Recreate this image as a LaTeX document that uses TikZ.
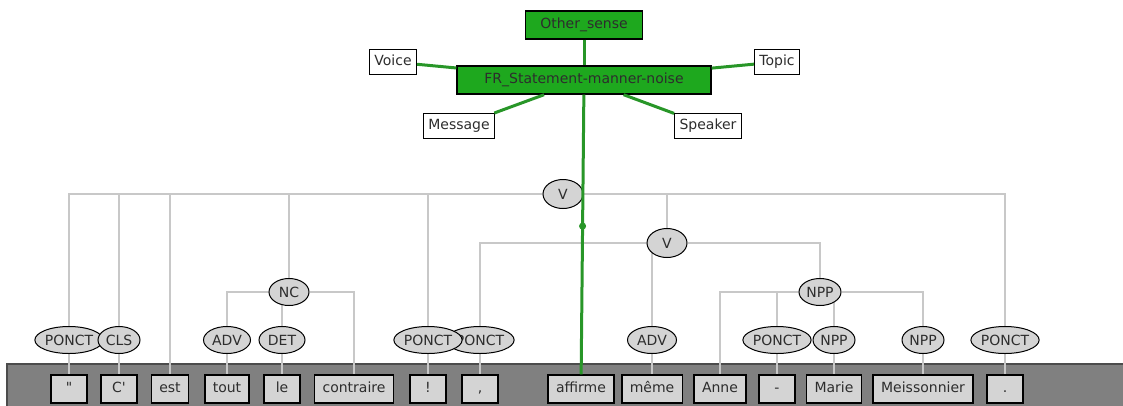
\documentclass[tikz,border=0pt]{standalone}
\usepackage{fontspec}
\setmainfont{DejaVu Sans}
\usetikzlibrary{shapes,positioning,backgrounds}

\definecolor{treegray}{RGB}{200,200,200}
\definecolor{bandgray}{RGB}{128,128,128}
\definecolor{boxgray}{RGB}{212,212,212}
\definecolor{framegreen}{RGB}{30,168,30}
\definecolor{linkgreen}{RGB}{40,150,40}
\definecolor{textgray}{RGB}{45,45,45}

\begin{document}
\begin{tikzpicture}[x=1pt, y=-1pt, node distance=49pt,
    font=\fontsize{14}{16}\selectfont, text=textgray,
    word/.style={draw, line width=1.5pt, fill=boxgray, minimum width=36pt, minimum height=28pt, inner xsep=8pt, text height=10pt, text depth=3pt},
    tag/.style={draw, ellipse, line width=1pt, fill=boxgray, inner sep=0pt, minimum height=27pt, minimum width=#1},
    tag/.default=44pt,
    role/.style={draw, line width=1pt, fill=white, minimum height=25pt, inner xsep=5pt, text height=10pt, text depth=3pt},
    framebox/.style={draw, line width=1.4pt, fill=framegreen, minimum height=28pt, text height=10pt, text depth=3pt},
    treeline/.style={treegray, line width=2.5pt},
    greenline/.style={linkgreen, line width=3pt}]
    \useasboundingbox (0,0) rectangle (1123,405);

    % sentence
    \node (w1) [word] at (69,389) {\textquotedbl};
    \node (w2) [word] at (119,389) {C\textquotesingle};
    \node (w3) [word] at (170,389) {est};
    \node (w4) [word] at (227,389) {tout};
    \node (w5) [word] at (282,389) {le};
    \node (w6) [word] at (354,389) {contraire};
    \node (w7) [word] at (428,389) {!};
    \node (w8) [word] at (480,389) {,};
    \node (w9) [word] at (581,389) {affirme};
    \node (w10) [word] at (652,389) {même};
    \node (w11) [word] at (720,389) {Anne};
    \node (w12) [word] at (777,389) {-};
    \node (w13) [word] at (834,389) {Marie};
    \node (w14) [word] at (923,389) {Meissonnier};
    \node (w15) [word] at (1005,389) {.};

    % part of speech
    \node (p1) [tag=68pt, above of=w1] {PONCT};
    \node (p2) [tag=42pt, above of=w2] {CLS};
    \node (p4) [tag=47pt, above of=w4] {ADV};
    \node (p5) [tag=46pt, above of=w5] {DET};
    \node (p8) [tag=68pt, above of=w8] {PONCT};
    \node (p7) [tag=68pt, above of=w7] {PONCT};
    \node (p10) [tag=49pt, above of=w10] {ADV};
    \node (p12) [tag=68pt, above of=w12] {PONCT};
    \node (p13) [tag=42pt, above of=w13] {NPP};
    \node (p14) [tag=42pt, above of=w14] {NPP};
    \node (p15) [tag=68pt, above of=w15] {PONCT};

    % phrases
    \node (v) [tag=40pt, minimum height=29pt] at (563,194) {V};
    \node (v2) [tag=40pt, minimum height=29pt] at (667,243) {V};
    \node (nc) [tag=40pt] at (289,292) {NC};
    \node (npp) [tag=42pt] at (820,292) {NPP};

    % frame
    \node (other) [framebox, minimum width=117pt] at (584,25) {Other\_sense};
    \node (fr) [framebox, minimum width=254pt] at (584,80) {FR\_Statement-manner-noise};
    \node (voice) [role] at (393,62) {Voice};
    \node (topic) [role] at (777,62) {Topic};
    \node (message) [role] at (459,126) {Message};
    \node (speaker) [role] at (708,126) {Speaker};

    \begin{scope}[on background layer]
        \draw[fill=bandgray, draw=black!70, line width=1.5pt] (7,364) rectangle (1135,415);
        \draw[treeline] (v) -| (p1);
        \draw[treeline] (v) -| (p2);
        \draw[treeline] (v) -| (w3);
        \draw[treeline] (v) -| (nc);
        \draw[treeline] (v) -| (p7);
        \draw[treeline] (v) -| (v2);
        \draw[treeline] (v) -| (p15);
        \draw[treeline] (v2) -| (p8);
        \draw[treeline] (v2.center -| p10) -- (p10);
        \draw[treeline] (v2) -| (npp);
        \draw[treeline] (nc) -| (p4);
        \draw[treeline] (nc.center -| p5) -- (p5);
        \draw[treeline] (nc) -| (w6);
        \draw[treeline] (npp) -| (w11);
        \draw[treeline] (npp) -| (p12);
        \draw[treeline] (npp.center -| p13) -- (p13);
        \draw[treeline] (npp) -| (p14);
        \draw[treeline] (p1) -- (w1);
        \draw[treeline] (p2) -- (w2);
        \draw[treeline] (p4) -- (w4);
        \draw[treeline] (p5) -- (w5);
        \draw[treeline] (p7) -- (w7);
        \draw[treeline] (p8) -- (w8);
        \draw[treeline] (p10) -- (w10);
        \draw[treeline] (p12) -- (w12);
        \draw[treeline] (p13) -- (w13);
        \draw[treeline] (p14) -- (w14);
        \draw[treeline] (p15) -- (w15);
    \end{scope}

    \draw[greenline] (other) -- (fr);
    \draw[greenline] (voice) -- (fr);
    \draw[greenline] (topic) -- (fr);
    \draw[greenline] (message) -- (fr);
    \draw[greenline] (speaker) -- (fr);
    \draw[greenline] (fr) -- (w9) node (dot) [pos=0.47, circle, fill=linkgreen, inner sep=2.5pt] {};
\end{tikzpicture}
\end{document}
